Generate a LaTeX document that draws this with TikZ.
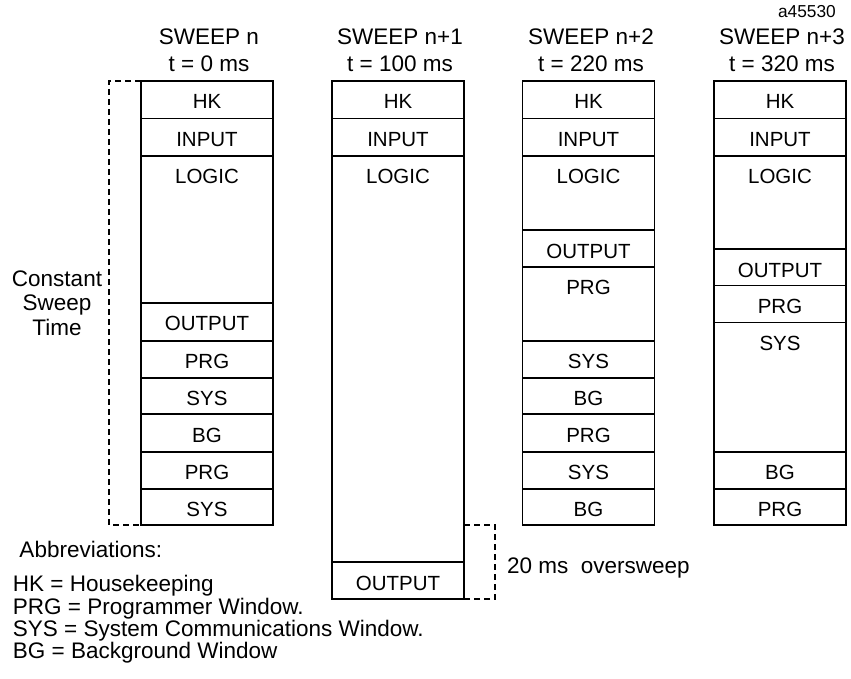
\documentclass[tikz,border=0pt]{standalone}
\usepackage{fontspec}
\setmainfont{Liberation Sans}
\begin{document}
\begin{tikzpicture}[x=1pt,y=-1pt,
  rowbox/.style={draw, line width=1.6pt, rectangle, inner sep=0, outer sep=0, minimum width=132pt},
  lbl/.style={anchor=base, inner sep=0, yshift=-28pt, font=\fontsize{20.5}{24}\selectfont},
  ttl/.style={anchor=base, inner sep=0, font=\fontsize{22.5}{26}\selectfont},
  txt/.style={anchor=base west, inner sep=0, font=\fontsize{22.5}{26}\selectfont},
  dashline/.style={line width=1.5pt, dash pattern=on 6pt off 4pt}]
\useasboundingbox (0,0) rectangle (851,679);
% column 1
\foreach \t/\b/\l [count=\i] in {81/118.7/HK,118.7/156/INPUT,156/302.7/LOGIC,302.7/340.7/OUTPUT,340.7/377.7/PRG,377.7/414/SYS,414/451.7/BG,451.7/488.7/PRG,488.7/525/SYS}
  \node[rowbox, minimum height={(\b-\t)*1pt}, label={[lbl]north:\l}] (c1r\i) at (207,{(\t+\b)/2}) {};
% column 2
\foreach \t/\b/\l [count=\i] in {81/118.7/HK,118.7/156/INPUT,156/562/LOGIC,562/599/OUTPUT}
  \node[rowbox, minimum height={(\b-\t)*1pt}, label={[lbl]north:\l}] (c2r\i) at (398,{(\t+\b)/2}) {};
% column 3
\foreach \t/\b/\l [count=\i] in {81/118.7/HK,118.7/156/INPUT,156/230/LOGIC,230/266.7/OUTPUT,266.7/340.7/PRG,340.7/377.7/SYS,377.7/414/BG,414/451.7/PRG,451.7/488.7/SYS,488.7/525/BG}
  \node[rowbox, minimum height={(\b-\t)*1pt}, label={[lbl]north:\l}] (c3r\i) at (588.5,{(\t+\b)/2}) {};
% column 4
\foreach \t/\b/\l [count=\i] in {81/118.7/HK,118.7/156/INPUT,156/249/LOGIC,249/285.3/OUTPUT,285.3/322.3/PRG,322.3/451.7/SYS,451.7/488.7/BG,488.7/525/PRG}
  \node[rowbox, minimum height={(\b-\t)*1pt}, label={[lbl]north:\l}] (c4r\i) at (780,{(\t+\b)/2}) {};
% titles
\node[ttl] (s1) at (209,45) {SWEEP n};
\node[ttl] (z1) at (209,72) {t = 0 ms};
\node[ttl] (s2) at (400,45) {SWEEP n+1};
\node[ttl] (z2) at (400,72) {t = 100 ms};
\node[ttl] (s3) at (591,45) {SWEEP n+2};
\node[ttl] (z3) at (591,72) {t = 220 ms};
\node[ttl] (s4) at (782,45) {SWEEP n+3};
\node[ttl] (z4) at (782,72) {t = 320 ms};
\node[anchor=base east, inner sep=0, font=\fontsize{17.3}{20}\selectfont] (fig) at (836,18) {a45530};
% constant sweep time
\node[ttl] (cst1) at (57,286) {Constant};
\node[ttl] (cst2) at (57,310) {Sweep};
\node[ttl] (cst3) at (57,335) {Time};
\draw[dashline] (c1r1.north west) -- ++(-32,0) |- (c1r9.south west);
% oversweep
\draw[dashline] (c2r3.east |- c3r10.south) -- ++(31,0) |- (c2r4.south east);
\node[txt] (over) at (507,573) {20 ms\ \ oversweep};
% abbreviations
\node[txt] (abbr) at (19.3,557.3) {Abbreviations:};
\node[txt] (a1) at (12.7,591.7) {HK = Housekeeping};
\node[txt] (a2) at (12.7,614) {PRG = Programmer Window.};
\node[txt] (a3) at (12.7,636.2) {SYS = System Communications Window.};
\node[txt] (a4) at (12.7,658.4) {BG = Background Window};
\end{tikzpicture}
\end{document}
